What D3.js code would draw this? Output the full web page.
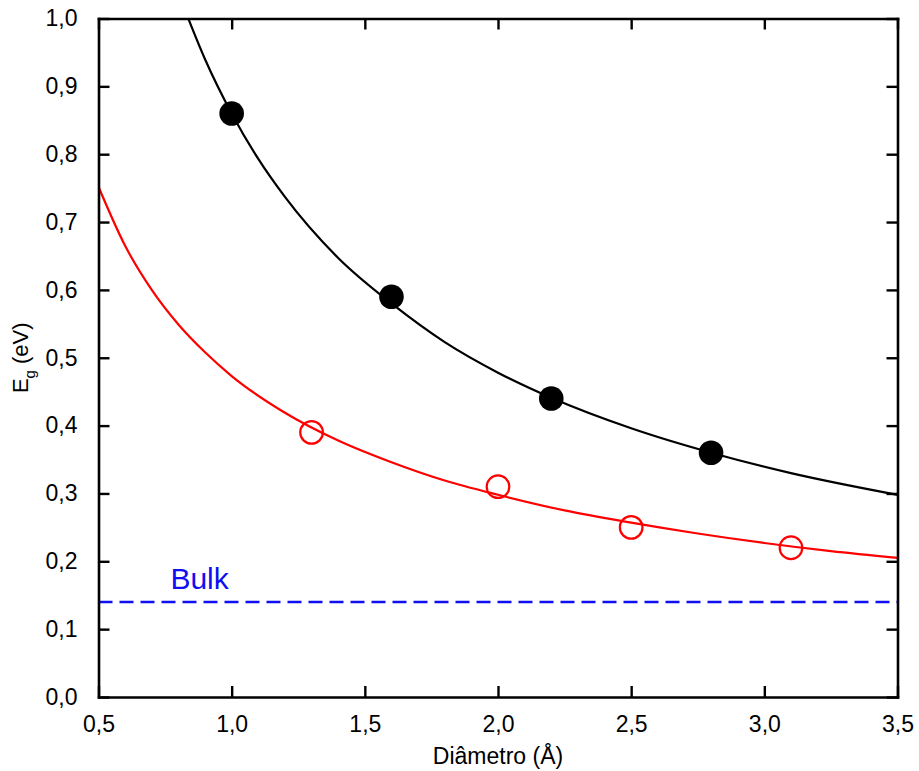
<!DOCTYPE html>
<html>
<head>
<meta charset="utf-8">
<script src="https://cdn.jsdelivr.net/npm/d3@7"></script>
<style>
  html, body { margin: 0; padding: 0; background: #fff; }
  svg { display: block; font-family: "Liberation Sans", Arial, Helvetica, sans-serif; }
</style>
</head>
<body>
<svg id="chart" width="919" height="771"></svg>
<script>
// Band gap versus diameter: two measured series with their fitted curves
const diamFilled = [1.0, 1.6, 2.2, 2.8];
const egFilled   = [0.86, 0.59, 0.44, 0.36];

const diamOpen = [1.3, 2.0, 2.5, 3.1];
const egOpen   = [0.39, 0.31, 0.25, 0.22];

// Fitted curves, sampled along the diameter axis
const fitFilledD = [0.82, 0.9, 1.0, 1.1, 1.2, 1.4, 1.6, 1.8, 2.0, 2.2, 2.5, 2.8, 3.1, 3.5];
const fitFilledE = [1.017, 0.940, 0.860, 0.793, 0.737, 0.647, 0.580, 0.523, 0.478, 0.441, 0.396, 0.360, 0.330, 0.298];

const fitOpenD = [0.5, 0.6, 0.7, 0.8, 0.9, 1.0, 1.2, 1.4, 1.6, 1.8, 2.0, 2.25, 2.5, 2.75, 3.0, 3.25, 3.5];
const fitOpenE = [0.752, 0.665, 0.600, 0.549, 0.508, 0.473, 0.419, 0.378, 0.346, 0.319, 0.298, 0.275, 0.257, 0.241, 0.227, 0.215, 0.205];

const bulkEg = 0.14;
const bulkLabel = "Bulk";

const xTicks = [0.5, 1.0, 1.5, 2.0, 2.5, 3.0, 3.5];
const yTicks = [0.0, 0.1, 0.2, 0.3, 0.4, 0.5, 0.6, 0.7, 0.8, 0.9, 1.0];

const xTitle = "Diâmetro (Å)";

(function draw() {
  const svg = d3.select("#chart");
  const pLeft = 98.5, pRight = 897.5, pTop = 18.5, pBottom = 697;

  const x = d3.scaleLinear().domain([0.5, 3.5]).range([pLeft, pRight]);
  const y = d3.scaleLinear().domain([0, 1]).range([pBottom, pTop]);

  const fmt = v => d3.format(".1f")(v).replace(".", ",");

  svg.append("defs").append("clipPath").attr("id", "plot-clip")
    .append("rect").attr("x", pLeft).attr("y", pTop)
    .attr("width", pRight - pLeft).attr("height", pBottom - pTop);

  const plot = svg.append("g").attr("clip-path", "url(#plot-clip)");

  // Bulk reference level
  plot.append("line")
    .attr("x1", x(0.5)).attr("x2", x(3.5))
    .attr("y1", y(bulkEg)).attr("y2", y(bulkEg))
    .attr("stroke", "#0f0ff2").attr("stroke-width", 2.6)
    .attr("stroke-dasharray", "14,7");

  svg.append("text")
    .attr("x", x(0.77)).attr("y", y(bulkEg) - 13)
    .attr("fill", "#0f0ff2").attr("font-size", 30)
    .text(bulkLabel);

  const line = d3.line().x(d => x(d[0])).y(d => y(d[1])).curve(d3.curveMonotoneX);

  plot.append("path")
    .datum(d3.zip(fitOpenD, fitOpenE))
    .attr("d", line).attr("fill", "none")
    .attr("stroke", "#ff0000").attr("stroke-width", 2.2);

  plot.append("path")
    .datum(d3.zip(fitFilledD, fitFilledE))
    .attr("d", line).attr("fill", "none")
    .attr("stroke", "#000").attr("stroke-width", 2.2);

  // Measured points
  svg.append("g").selectAll("circle")
    .data(d3.zip(diamOpen, egOpen)).join("circle")
    .attr("cx", d => x(d[0])).attr("cy", d => y(d[1])).attr("r", 11.3)
    .attr("fill", "none").attr("stroke", "#ff0000").attr("stroke-width", 2.2);

  svg.append("g").selectAll("circle")
    .data(d3.zip(diamFilled, egFilled)).join("circle")
    .attr("cx", d => x(d[0])).attr("cy", d => y(d[1])).attr("r", 12.3)
    .attr("fill", "#000");

  // Frame with inward ticks on all four sides
  const tickLen = 11;
  const axisStyle = g => {
    g.select(".domain").attr("stroke-width", 2.6).attr("stroke", "#000");
    g.selectAll(".tick line").attr("stroke-width", 2.4).attr("stroke", "#000");
    g.selectAll(".tick text").attr("font-size", 23).attr("fill", "#000")
      .attr("font-family", "'Liberation Sans', Arial, sans-serif");
  };

  svg.append("g").attr("transform", `translate(0,${pBottom})`)
    .call(d3.axisBottom(x).tickValues(xTicks).tickFormat(fmt)
      .tickSizeInner(-tickLen).tickSizeOuter(0).tickPadding(19))
    .call(axisStyle);

  svg.append("g").attr("transform", `translate(0,${pTop})`)
    .call(d3.axisTop(x).tickValues(xTicks).tickFormat("")
      .tickSizeInner(-tickLen).tickSizeOuter(0))
    .call(axisStyle);

  svg.append("g").attr("transform", `translate(${pLeft},0)`)
    .call(d3.axisLeft(y).tickValues(yTicks).tickFormat(fmt)
      .tickSizeInner(-tickLen).tickSizeOuter(0).tickPadding(21))
    .call(axisStyle);

  svg.append("g").attr("transform", `translate(${pRight},0)`)
    .call(d3.axisRight(y).tickValues(yTicks).tickFormat("")
      .tickSizeInner(-tickLen).tickSizeOuter(0))
    .call(axisStyle);

  svg.selectAll(".domain").attr("stroke-linecap", "square");

  // Axis titles
  svg.append("text")
    .attr("x", (pLeft + pRight) / 2).attr("y", 764)
    .attr("text-anchor", "middle").attr("font-size", 23)
    .text(xTitle);

  const yt = svg.append("text")
    .attr("transform", `translate(28,${(pTop + pBottom) / 2}) rotate(-90)`)
    .attr("text-anchor", "middle").attr("font-size", 22);
  yt.append("tspan").text("E");
  yt.append("tspan").attr("font-size", 15).attr("dy", 7).text("g");
  yt.append("tspan").attr("dy", -7).text(" (eV)");
})();
</script>
</body>
</html>
